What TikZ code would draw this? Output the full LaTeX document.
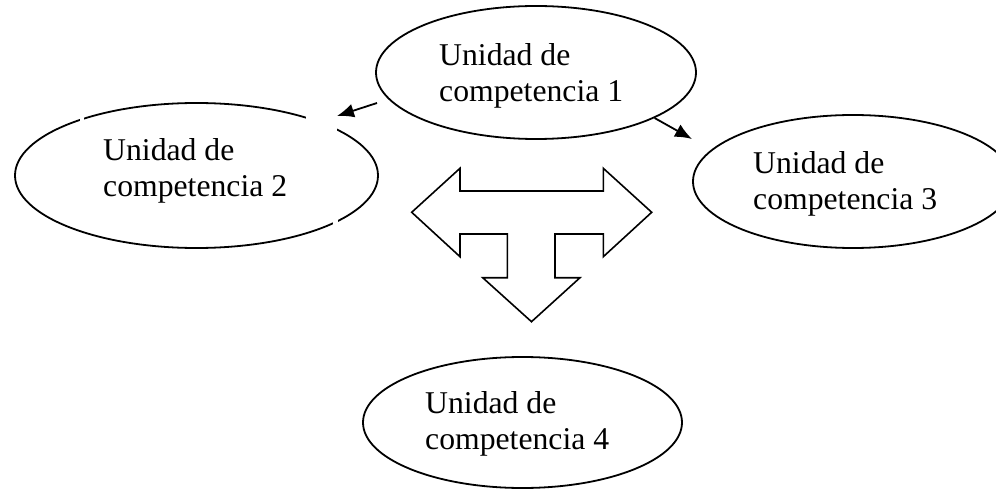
\documentclass[tikz,border=0pt]{standalone}
\usepackage{fontspec}
\setmainfont{Liberation Serif}
\usetikzlibrary{shapes.geometric,arrows.meta}
\tikzstyle{unidad}=[ellipse,draw,line width=1.8pt,inner sep=0pt,
minimum width=320pt]
\tikzstyle{texto}=[align=left,anchor=north west,inner sep=0pt,
font=\fontsize{31.7}{36}\selectfont]
\tikzstyle{flecha}=[line width=1.8pt,-{Latex[length=17pt,width=14pt]}]
\tikzstyle{hueco}=[fill=white,draw=none]

\begin{document}
\begin{tikzpicture}[x=1pt,y=-1pt]
            \useasboundingbox (0,0) rectangle (996,489);

            % UNIDADES

            \node[unidad,minimum height=133pt] (u1) at (536,72.5) {};
            \node[unidad,minimum width=363pt,minimum height=145pt] (u2) at (196.5,175.5) {};
            \node[unidad,minimum height=133pt] (u3) at (853,181.5) {};
            \node[unidad,minimum width=319pt,minimum height=131pt] (u4) at (522.5,422.5) {};

            % gaps in the outline of u2
            \fill[hueco] (306,110) rectangle (337,136);
            \fill[hueco] (80,114) rectangle (84,126);
            \fill[hueco] (333,216) rectangle (338,229);

            \node[texto] (t1) at (439,43) {Unidad de\\competencia 1};
            \node[texto] (t2) at (103,138) {Unidad de\\competencia 2};
            \node[texto] (t3) at (753,151) {Unidad de\\competencia 3};
            \node[texto] (t4) at (425,391) {Unidad de\\competencia 4};

            % ARROWS

            \coordinate (a1) at (377,103);
            \coordinate (b1) at (337,116);
            \coordinate (b2) at (692,139);

            \draw[flecha] (a1) -- (b1);
            \draw[flecha] (u1.-21) -- (b2);

            % T shaped arrow
            \draw[line width=1.6pt,line join=miter]
              (411.7,212.3) -- (460,168.3) -- (460,191) -- (603.3,191)
              -- (603.3,168.3) -- (651.7,212.3) -- (603.3,256.7) -- (603.3,234)
              -- (555,234) -- (555,277.7) -- (580,277.7) -- (531.5,321.7)
              -- (482.7,277.7) -- (507.3,277.7) -- (507.3,234) -- (460,234)
              -- (460,256.7) -- cycle;

\end{tikzpicture}
\end{document}
